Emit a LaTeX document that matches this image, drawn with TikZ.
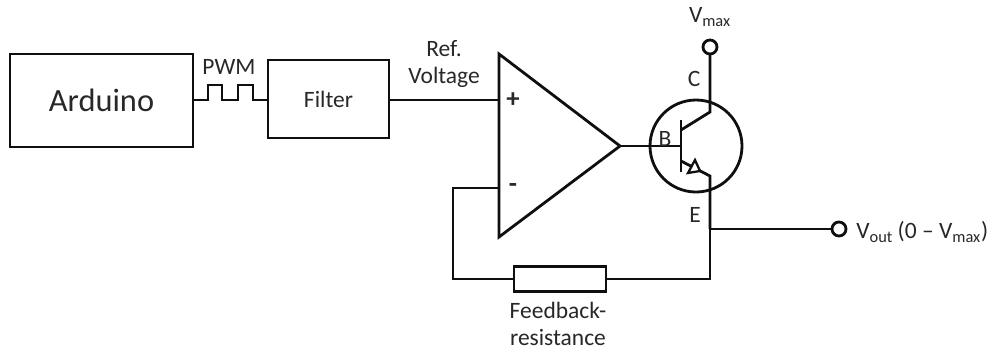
\documentclass[tikz,border=0pt]{standalone}
\usepackage{fontspec}
\setmainfont{Carlito}
\usetikzlibrary{calc}
\definecolor{ink}{RGB}{15,15,15}
\definecolor{txt}{RGB}{40,40,40}
\tikzset{
  x=0.75pt,y=-0.75pt,
  wire/.style={draw=ink,line width=2.1pt,line join=miter},
  blockbox/.style={draw=ink,line width=2.1pt,inner sep=0pt,outer sep=0pt,text=txt,anchor=north west},
  term/.style={circle,draw=ink,line width=2.1pt,fill=white,minimum size=10.5pt,inner sep=0pt,outer sep=0pt},
  lab/.style={text=txt,font=\fontsize{17.6pt}{20.25pt}\selectfont,align=center,inner sep=0pt},
}
\begin{document}
\begin{tikzpicture}
\useasboundingbox (0,0) rectangle (988,351);
\fill[white] (0,0) rectangle (988,351);
\node[blockbox,minimum width=137.25pt,minimum height=69.75pt,font=\fontsize{24.3pt}{28pt}\selectfont] (arduino) at (10,54) {Arduino};
\node[blockbox,minimum width=90.75pt,minimum height=58.5pt,font=\fontsize{17.6pt}{20pt}\selectfont] (filter) at (268,60) {Filter};
\node[lab] (pwm) at (229,67) {PWM};
\node[lab] (ref) at (444,64) {Ref.\\Voltage};
% op amp
\coordinate (ota) at (499,54);
\coordinate (otb) at (499,237);
\coordinate (oto) at (620,146);
\draw[wire,miter limit=10] (ota) -- (oto) -- (otb) -- cycle;
\node[lab,font=\bfseries\fontsize{20pt}{22pt}\selectfont] (plus) at (513,100) {+};
\node[lab,font=\bfseries\fontsize{20pt}{22pt}\selectfont] (minus) at (513,188) {-};
% PWM wave
\draw[wire] (arduino.east |- 0,100) -- (208,100) -- (208,85) -- (222,85) -- (222,100) -- (238,100) -- (238,85) -- (253,85) -- (253,100) -- (filter.west |- 0,100);
\draw[wire] (filter.east |- 0,100) -- (ota |- 0,100);
% transistor
\node[circle,draw=ink,line width=2.1pt,minimum size=69pt,inner sep=0pt,outer sep=0pt] (tr) at (696,146) {};
\coordinate (bar) at (681,146);
\draw[wire] (681,120) -- (681,172);
\draw[wire] (oto) -- (bar);
\node[term] (vmaxt) at (710,47) {};
\node[term] (voutt) at (839,229) {};
\coordinate (ej) at (710,229);
\draw[wire] (vmaxt) -- (710,112) -- (681,130);
\draw[wire] (681,161) -- (710,176) -- (ej);
\draw[wire] (ej) -- (voutt);
\draw[draw=ink,line width=1.7pt,fill=white] (688,173) -- (695,160) -- (700,171) -- cycle;
% feedback
\node[blockbox,minimum width=69pt,minimum height=18.75pt] (rf) at (514,266.5) {};
\coordinate (m) at (499,188);
\draw[wire] (m) -- (453,188) -- (453,279) -- (rf.west);
\draw[wire] (rf.east) -- (710,279) -- (ej);
% labels
\node[lab] (vmax) at (710,17) {V\textsubscript{max}};
\node[lab] (c) at (694,79) {C};
\node[lab] (b) at (665,139) {B};
\node[lab] (e) at (695,215) {E};
\node[lab,anchor=west] (vout) at (856,232) {V\textsubscript{out}\hspace{3.5pt}(0\hspace{4pt}–\hspace{4pt}V\textsubscript{max})};
\node[lab] (fb) at (558,324) {Feedback-\\resistance};
\end{tikzpicture}
\end{document}
